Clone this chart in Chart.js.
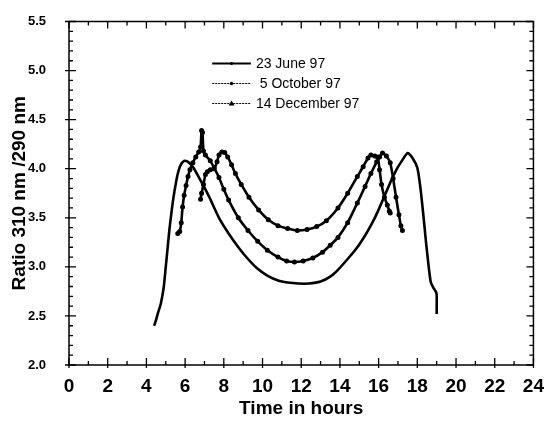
<!DOCTYPE html>
<html>
<head>
<meta charset="utf-8">
<script src="https://cdn.jsdelivr.net/npm/chart.js@4.4.1/dist/chart.umd.min.js"></script>
<style>
    html, body { margin: 0; padding: 0; background: #ffffff; }
    #graph { display: block; }
</style>
</head>
<body>
<canvas id="graph" width="548" height="424"></canvas>
<script>
// Data ------------------------------------------------------------------------
let hourTicks = [0, 2, 4, 6, 8, 10, 12, 14, 16, 18, 20, 22, 24];
let ratioTicks = [2.0, 2.5, 3.0, 3.5, 4.0, 4.5, 5.0, 5.5];
let seriesLabels = ["23 June 97", " 5 October 97", "14 December 97"];

// 23 June 97
let juneTime = [4.4, 4.5, 4.6, 4.75, 4.9, 5.0, 5.1, 5.2, 5.35, 5.45, 5.6, 5.75, 5.95, 6.15, 6.4,
    6.8, 7.25, 7.75, 8.25, 8.75, 9.25, 9.75, 10.25, 10.8, 11.3, 11.85, 12.4, 13.0, 13.5, 13.9,
    14.4, 14.9, 15.3, 15.65, 15.95, 16.3, 16.65, 16.95, 17.2, 17.5, 17.75, 18.0, 18.15, 18.3, 18.45,
    18.6, 18.7, 18.85, 18.95, 19.0, 19.0];
let juneRatio = [2.40, 2.46, 2.53, 2.63, 2.80, 3.00, 3.20, 3.40, 3.64, 3.77, 3.93, 4.03, 4.08, 4.07, 4.02,
    3.88, 3.71, 3.50, 3.34, 3.20, 3.08, 2.98, 2.91, 2.86, 2.84, 2.83, 2.83, 2.85, 2.90, 2.97,
    3.08, 3.20, 3.32, 3.44, 3.56, 3.72, 3.88, 4.00, 4.08, 4.16, 4.11, 4.01, 3.82, 3.55, 3.25,
    2.98, 2.84, 2.78, 2.75, 2.72, 2.52];

// 5 October 97
let octTime = [5.62, 5.72, 5.8, 5.87, 5.95, 6.05, 6.15, 6.25, 6.4, 6.55, 6.7, 6.8, 6.85, 6.9, 6.95,
    7.05, 7.3, 7.5, 7.75, 8.0, 8.25, 8.75, 9.25, 9.75, 10.25, 10.8, 11.25, 11.65, 12.1, 12.6,
    13.1, 13.5, 13.9, 14.4, 14.9, 15.3, 15.6, 15.9, 16.05, 16.2, 16.4, 16.6, 16.75, 16.9, 17.05,
    17.15, 17.23];
let octRatio = [3.34, 3.36, 3.45, 3.61, 3.73, 3.83, 3.92, 3.99, 4.06, 4.12, 4.17, 4.22, 4.39, 4.37, 4.18,
    4.14, 4.08, 4.01, 3.91, 3.79, 3.68, 3.50, 3.37, 3.26, 3.17, 3.10, 3.06, 3.05, 3.06, 3.09,
    3.15, 3.22, 3.30, 3.45, 3.65, 3.82, 3.95, 4.07, 4.12, 4.16, 4.13, 4.06, 3.90, 3.71, 3.53,
    3.42, 3.37];

// 14 December 97
let decTime = [6.8, 6.85, 6.95, 7.05, 7.15, 7.3, 7.5, 7.65, 7.75, 7.9, 8.05, 8.2, 8.4, 8.6, 8.9,
    9.3, 9.8, 10.3, 10.8, 11.3, 11.8, 12.3, 12.8, 13.3, 13.9, 14.4, 14.9, 15.2, 15.45, 15.6,
    15.8, 15.95, 16.05, 16.15, 16.3, 16.45, 16.55, 16.6];
let decRatio = [3.69, 3.75, 3.84, 3.94, 3.97, 3.99, 4.00, 4.07, 4.14, 4.17, 4.165, 4.12, 4.04, 3.95, 3.84,
    3.71, 3.58, 3.48, 3.42, 3.39, 3.37, 3.38, 3.41, 3.47, 3.60, 3.75, 3.92, 4.02, 4.11, 4.14,
    4.13, 4.12, 3.99, 3.84, 3.71, 3.63, 3.57, 3.55];


// Fonts -----------------------------------------------------------------------
Chart.defaults.font.family = "'Liberation Sans', Arial, sans-serif";
Chart.defaults.color = "#000000";


// Turn two lists into {x, y} points for a linear x axis
function toPoints(xs, ys) {
    return xs.map(function (x, i) {
        return {x: x, y: ys[i]};
    });
}


/*
Frame, inward tick marks and the legend
Everything is placed through the chart scales
*/
let framePlugin = {
    id: "frame",
    afterDatasetsDraw(chart) {
        let ctx = chart.ctx;
        let area = chart.chartArea;
        let xScale = chart.scales.x;
        let yScale = chart.scales.y;

        ctx.save();
        ctx.strokeStyle = "#000000";

        // Box round the plot
        ctx.lineWidth = 1.5;
        ctx.strokeRect(area.left, area.top, area.right - area.left, area.bottom - area.top);

        // Tick marks on all four sides (major every 2 h / 0.5, minor every 1 h / 0.1)
        ctx.lineWidth = 1.3;
        ctx.beginPath();
        for (let h = 0; h <= 24; h++) {
            let px = xScale.getPixelForValue(h);
            let major = h % 2 === 0;
            let len = major ? 7 : 4;
            ctx.moveTo(px, area.bottom + (major ? 3 : 0));
            ctx.lineTo(px, area.bottom - len);
            ctx.moveTo(px, area.top);
            ctx.lineTo(px, area.top + len);
        }
        for (let k = 20; k <= 55; k++) {
            let py = yScale.getPixelForValue(k / 10);
            let major = k % 5 === 0;
            let len = major ? 7 : 4;
            ctx.moveTo(area.left - (major ? 4 : 0), py);
            ctx.lineTo(area.left + len, py);
            ctx.moveTo(area.right, py);
            ctx.lineTo(area.right - len, py);
        }
        ctx.stroke();

        // Legend
        let lineStart = xScale.getPixelForValue(7.4);
        let lineEnd = xScale.getPixelForValue(9.4);
        let textX = lineEnd + 5;
        ctx.font = "14px 'Liberation Sans', Arial, sans-serif";
        ctx.fillStyle = "#000000";
        ctx.textBaseline = "middle";
        ctx.textAlign = "left";
        chart.data.datasets.forEach(function (ds, i) {
            let rowY = area.top + 42 + i * 20;
            let mid = (lineStart + lineEnd) / 2;
            ctx.beginPath();
            if (i === 0) {
                ctx.lineWidth = 2;
                ctx.setLineDash([]);
            } else {
                ctx.lineWidth = 1.2;
                ctx.setLineDash([2, 1]);
            }
            ctx.moveTo(lineStart, rowY);
            ctx.lineTo(lineEnd, rowY);
            ctx.stroke();
            ctx.setLineDash([]);

            // Small marker in the middle of the sample line
            ctx.beginPath();
            if (i === 0) {
                ctx.rect(mid - 1, rowY - 1.5, 2, 3);
            } else if (i === 1) {
                ctx.arc(mid, rowY, 1.8, 0, Math.PI * 2);
            } else {
                ctx.moveTo(mid, rowY - 3);
                ctx.lineTo(mid + 3, rowY + 2);
                ctx.lineTo(mid - 3, rowY + 2);
                ctx.closePath();
            }
            ctx.fill();

            ctx.fillText(ds.label, textX, rowY + 1);
        });

        ctx.restore();
    }
};


// Chart --------------------------------------------------------------------------
let canvas = document.getElementById("graph").getContext("2d");

let lineStyle = {
    borderColor: "#000000",
    backgroundColor: "#000000",
    borderWidth: 2.6,
    tension: 0.2,
    fill: false
};

let dataGraph = {
    type: "line",
    data: {
        datasets: [
            Object.assign({label: seriesLabels[0], data: toPoints(juneTime, juneRatio), pointRadius: 0}, lineStyle),
            Object.assign({label: seriesLabels[1], data: toPoints(octTime, octRatio), pointRadius: 1.2}, lineStyle),
            Object.assign({label: seriesLabels[2], data: toPoints(decTime, decRatio), pointRadius: 1.2}, lineStyle)
        ]
    },
    options: {
        responsive: false,
        animation: false,
        layout: {padding: {left: 0, right: 0, top: 20, bottom: 0}},
        plugins: {
            legend: {display: false},
            tooltip: {enabled: false}
        },
        scales: {
            x: {
                type: "linear",
                min: 0,
                max: 24,
                grid: {display: false},
                border: {display: false},
                afterBuildTicks: function (scale) {
                    scale.ticks = hourTicks.map(function (v) { return {value: v}; });
                },
                afterFit: function (scale) { scale.height = 59; },
                ticks: {
                    autoSkip: false,
                    maxRotation: 0,
                    padding: 4,
                    font: {size: 19, weight: "bold", lineHeight: 1}
                },
                title: {
                    display: true,
                    text: "Time in hours",
                    font: {size: 19, weight: "bold", lineHeight: 1},
                    padding: {top: 0, bottom: 6}
                }
            },
            y: {
                type: "linear",
                min: 2.0,
                max: 5.5,
                grid: {display: false},
                border: {display: false},
                afterBuildTicks: function (scale) {
                    scale.ticks = ratioTicks.map(function (v) { return {value: v}; });
                },
                afterFit: function (scale) { scale.width = 69; },
                ticks: {
                    padding: 15,
                    font: {size: 13, weight: "bold", lineHeight: 1},
                    callback: function (v) { return Number(v).toFixed(1); }
                },
                title: {
                    display: true,
                    text: "Ratio 310 nm /290 nm",
                    font: {size: 19, weight: "bold", lineHeight: 1},
                    padding: {top: 10, bottom: 0}
                }
            }
        }
    },
    plugins: [framePlugin]
};

let chart = new Chart(canvas, dataGraph);
</script>
</body>
</html>
